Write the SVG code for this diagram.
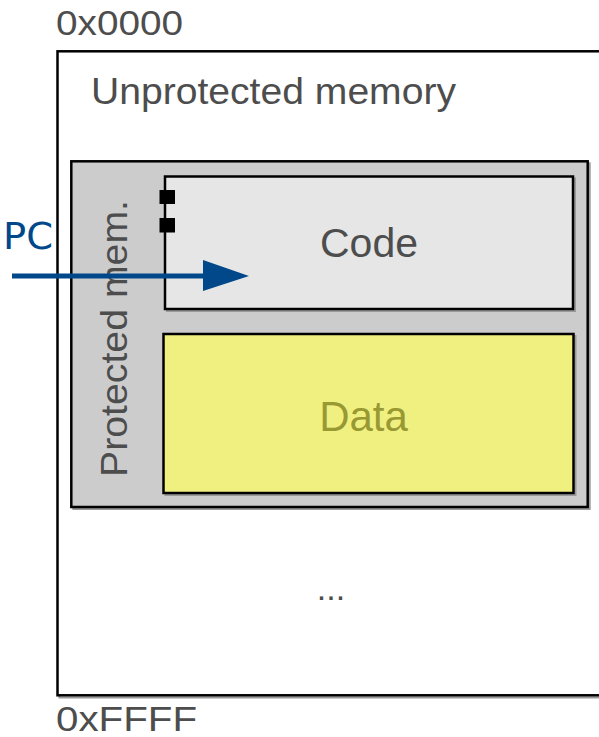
<svg xmlns="http://www.w3.org/2000/svg" width="599" height="737" viewBox="0 0 599 737">
<style>
.lbl{font-family:"Liberation Sans",Arial,sans-serif;fill:#4d4d4d}
.box{stroke:#000;stroke-width:2.5}
.shadow{fill:none;stroke:#9a9a9a;stroke-width:2}
</style>
<rect width="599" height="737" fill="#fff"/>
<g id="outer">
<rect class="shadow" x="59.5" y="53.5" width="560" height="644"/>
<rect class="box" x="57.5" y="51.3" width="560" height="644" fill="#fff"/>
<text class="lbl" x="56" y="35" font-size="35" textLength="127" lengthAdjust="spacingAndGlyphs">0x0000</text>
<text class="lbl" x="91" y="104" font-size="36" textLength="365" lengthAdjust="spacingAndGlyphs">Unprotected memory</text>
<text class="lbl" x="331" y="600" font-size="34" text-anchor="middle">...</text>
<text class="lbl" x="56" y="731" font-size="35" textLength="141" lengthAdjust="spacingAndGlyphs">0xFFFF</text>
</g>
<g id="protected">
<rect class="shadow" x="73.3" y="163.3" width="516.4" height="345.7"/>
<rect class="box" x="71.3" y="161.3" width="516.4" height="345.7" fill="#cccccc"/>
<text class="lbl" transform="translate(127,477) rotate(-90)" font-size="36" textLength="277" lengthAdjust="spacingAndGlyphs">Protected mem.</text>
</g>
<g id="code">
<rect class="shadow" x="167" y="178.5" width="408" height="132.5"/>
<rect class="box" x="165" y="176.5" width="408" height="132.5" fill="#e6e6e6"/>
<rect x="159.5" y="190" width="15.5" height="14" fill="#000"/>
<rect x="159.5" y="218" width="15.5" height="14.5" fill="#000"/>
<text class="lbl" x="369" y="257" font-size="41" text-anchor="middle">Code</text>
</g>
<g id="data">
<rect class="shadow" x="165.5" y="336" width="410" height="159"/>
<rect class="box" x="163.5" y="334" width="410" height="159" fill="#f0f080"/>
<text x="363.5" y="431" font-family="'Liberation Sans',Arial,sans-serif" font-size="42" fill="#999933" text-anchor="middle">Data</text>
</g>
<g id="connectors">
<line x1="12" y1="276" x2="206" y2="276" stroke="#00488a" stroke-width="5"/>
<polygon points="203,260 249,276 203,291" fill="#00488a"/>
<text x="3" y="249" font-family="'DejaVu Sans',sans-serif" font-size="37" fill="#00488a" textLength="50" lengthAdjust="spacingAndGlyphs">PC</text>
</g>
</svg>
